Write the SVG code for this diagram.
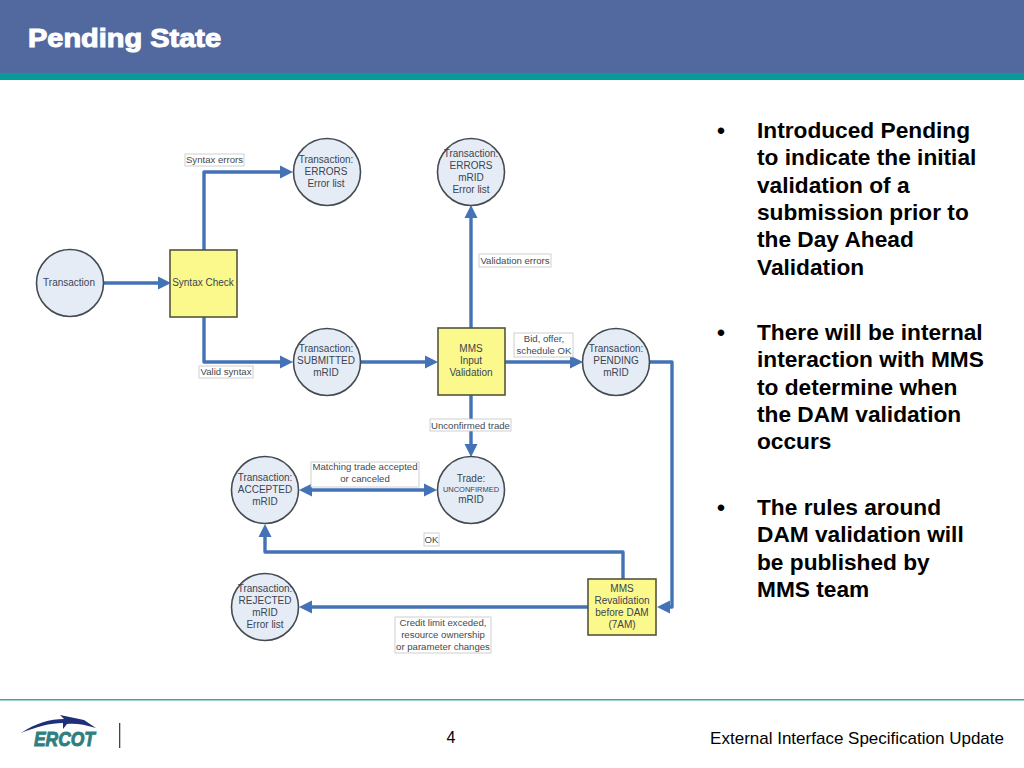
<svg xmlns="http://www.w3.org/2000/svg" width="1024" height="768" viewBox="0 0 1024 768">
<style>
text{font-family:"Liberation Sans",Arial,sans-serif}
.c{fill:#e6ecf6;stroke:#444b50;stroke-width:1.6}
.r{fill:#fbf88c;stroke:#55553a;stroke-width:1.6}
.n{font-size:10px;fill:#3b4450;text-anchor:middle}
.l{font-size:9.600px;fill:#444a50;text-anchor:middle}
.b{fill:#fff;stroke:#c4c4c4;stroke-width:.8}
.w{fill:none;stroke:#4472b6;stroke-width:3.400;stroke-linejoin:round}
.h{fill:#4472b6}
.t{font-size:22.700px;font-weight:bold;fill:#000}
</style>
<rect width="1024" height="73" fill="#52699f"/>
<rect y="73" width="1024" height="7" fill="#069a98"/>
<text x="28" y="47" font-size="25" font-weight="bold" fill="#fff" stroke="#fff" stroke-width="1" textLength="193" lengthAdjust="spacingAndGlyphs">Pending State</text>

<g id="connectors">
<path class="w" d="M104 283H160"/><polygon class="h" points="171,283 158,276.500 158,289.500"/>
<path class="w" d="M204 250V172H283"/><polygon class="h" points="293,172 280,165.500 280,178.500"/>
<path class="w" d="M204 317V362H283"/><polygon class="h" points="293,362 280,355.500 280,368.500"/>
<path class="w" d="M361 362H428"/><polygon class="h" points="438,362 425,355.500 425,368.500"/>
<path class="w" d="M471 328V215"/><polygon class="h" points="471,205 464.500,218 477.500,218"/>
<path class="w" d="M505 362H573"/><polygon class="h" points="583,362 570,355.500 570,368.500"/>
<path class="w" d="M471 395V447"/><polygon class="h" points="471,457 464.500,444 477.500,444"/>
<path class="w" d="M310 490H426"/><polygon class="h" points="299,490 312,483.500 312,496.500"/><polygon class="h" points="437,490 424,483.500 424,496.500"/>
<path class="w" d="M650 362H672V607H668"/><polygon class="h" points="657,607 670,600.500 670,613.500"/>
<path class="w" d="M623 579V552H265V534"/><polygon class="h" points="265,524 258.500,537 271.500,537"/>
<path class="w" d="M588 607H309"/><polygon class="h" points="299,607 312,600.500 312,613.500"/>
</g>

<g id="label-syntax-errors"><rect class="b" x="185" y="154" width="59" height="12"/><text class="l" x="214.500" y="163">Syntax errors</text></g>
<g id="label-valid-syntax"><rect class="b" x="199" y="366" width="54" height="12"/><text class="l" x="226" y="375">Valid syntax</text></g>
<g id="label-validation-errors"><rect class="b" x="479" y="254" width="72" height="13"/><text class="l" x="515" y="264">Validation errors</text></g>
<g id="label-bid"><rect class="b" x="514" y="333" width="59" height="24"/><text class="l" x="544" y="342">Bid, offer,</text><text class="l" x="544" y="353.500">schedule OK</text></g>
<g id="label-unconfirmed"><rect class="b" x="430" y="419" width="81" height="12"/><text class="l" x="470.500" y="428.500">Unconfirmed trade</text></g>
<g id="label-matching"><rect class="b" x="311" y="462" width="108" height="25"/><text class="l" x="365" y="470">Matching trade accepted</text><text class="l" x="365" y="482">or canceled</text></g>
<g id="label-ok"><rect class="b" x="424" y="533" width="15" height="13"/><text class="l" x="431.500" y="543">OK</text></g>
<g id="label-credit"><rect class="b" x="395" y="617" width="96" height="36"/><text class="l" x="443" y="626">Credit limit exceded,</text><text class="l" x="443" y="638">resource ownership</text><text class="l" x="443" y="650">or parameter changes</text></g>

<g id="transaction"><circle class="c" cx="70" cy="283" r="33.500"/><text class="n" x="69" y="286">Transaction</text></g>
<g id="syntax-check"><rect class="r" x="170" y="250" width="67" height="67"/><text class="n" x="203" y="286">Syntax Check</text></g>
<g id="errors"><circle class="c" cx="327" cy="172" r="33.500"/><text class="n" x="326" y="163">Transaction:</text><text class="n" x="326" y="175">ERRORS</text><text class="n" x="326" y="187">Error list</text></g>
<g id="submitted"><circle class="c" cx="327" cy="362" r="33.500"/><text class="n" x="326" y="352">Transaction:</text><text class="n" x="326" y="364">SUBMITTED</text><text class="n" x="326" y="376">mRID</text></g>
<g id="errors-mrid"><circle class="c" cx="471" cy="172" r="33.500"/><text class="n" x="471" y="157">Transaction:</text><text class="n" x="471" y="169">ERRORS</text><text class="n" x="471" y="181">mRID</text><text class="n" x="471" y="193">Error list</text></g>
<g id="mms-input"><rect class="r" x="438" y="328" width="67" height="67"/><text class="n" x="471" y="352">MMS</text><text class="n" x="471" y="364">Input</text><text class="n" x="471" y="376">Validation</text></g>
<g id="pending"><circle class="c" cx="616" cy="362" r="33.500"/><text class="n" x="616" y="352">Transaction:</text><text class="n" x="616" y="364">PENDING</text><text class="n" x="616" y="376">mRID</text></g>
<g id="accepted"><circle class="c" cx="265" cy="490" r="33.500"/><text class="n" x="265" y="481">Transaction:</text><text class="n" x="265" y="493">ACCEPTED</text><text class="n" x="265" y="505">mRID</text></g>
<g id="trade"><circle class="c" cx="471" cy="490" r="33.500"/><text class="n" x="471" y="482">Trade:</text><text class="n" x="471" y="492" style="font-size:7.500px">UNCONFIRMED</text><text class="n" x="471" y="503">mRID</text></g>
<g id="rejected"><circle class="c" cx="265" cy="607" r="33.500"/><text class="n" x="265" y="592">Transaction:</text><text class="n" x="265" y="604">REJECTED</text><text class="n" x="265" y="616">mRID</text><text class="n" x="265" y="628">Error list</text></g>
<g id="mms-revalidation"><rect class="r" x="588" y="579" width="68" height="56"/><text class="n" x="622" y="592">MMS</text><text class="n" x="622" y="604">Revalidation</text><text class="n" x="622" y="616">before DAM</text><text class="n" x="622" y="628">(7AM)</text></g>

<g id="bullets">
<text class="t" x="717" y="138">•</text>
<text class="t"><tspan x="757" y="138">Introduced Pending</tspan><tspan x="757" y="165.300">to indicate the initial</tspan><tspan x="757" y="192.600">validation of a</tspan><tspan x="757" y="219.900">submission prior to</tspan><tspan x="757" y="247.200">the Day Ahead</tspan><tspan x="757" y="274.500">Validation</tspan></text>
<text class="t" x="717" y="340">•</text>
<text class="t"><tspan x="757" y="340">There will be internal</tspan><tspan x="757" y="367.300">interaction with MMS</tspan><tspan x="757" y="394.600">to determine when</tspan><tspan x="757" y="421.900">the DAM validation</tspan><tspan x="757" y="449.200">occurs</tspan></text>
<text class="t" x="717" y="515">•</text>
<text class="t"><tspan x="757" y="515">The rules around</tspan><tspan x="757" y="542.300">DAM validation will</tspan><tspan x="757" y="569.600">be published by</tspan><tspan x="757" y="596.900">MMS team</tspan></text>
</g>

<rect y="699" width="1024" height="1.500" fill="#3ba89e"/>
<g id="logo">
<path d="M21 733C36 723 50 719 64 719L60 715L84 720L96 728C84 724 74 723 67 724L63 729L63 723C50 723 36 727 21 733Z" fill="#1f2f78"/>
<text x="34" y="746" font-size="21" font-weight="bold" font-style="italic" fill="#2f7f80" stroke="#2f7f80" stroke-width="1" textLength="61" lengthAdjust="spacingAndGlyphs">ERCOT</text>
</g>
<rect x="119" y="723" width="1.300" height="25" fill="#444"/>
<text x="451" y="743" font-size="16" text-anchor="middle" fill="#000">4</text>
<text x="1004" y="744" font-size="17" text-anchor="end" fill="#000">External Interface Specification Update</text>
</svg>
